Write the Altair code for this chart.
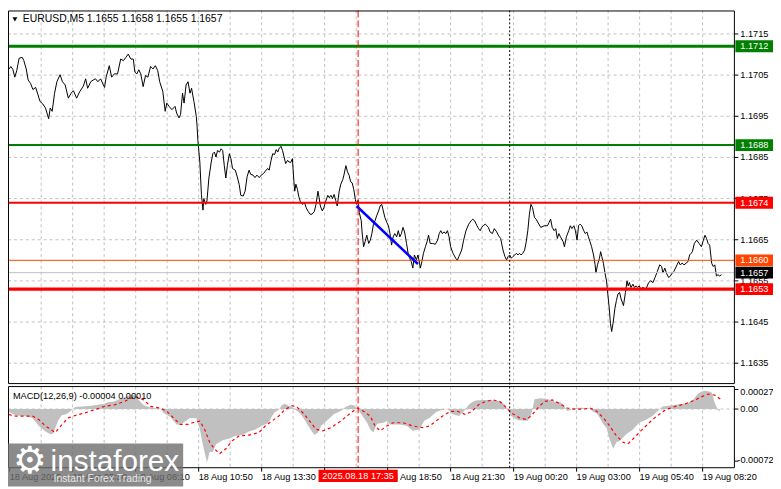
import altair as alt
import pandas as pd

# ---------------- data (x = minutes along the time axis, 18 Aug 00:00 = 0) ----------------
price_t = [
    169, 173, 178, 183, 188, 194, 202, 206, 212, 217,
    223, 229, 236, 242, 247, 254, 261, 269, 273, 278,
    284, 290, 298, 304, 311, 319, 326, 332, 340, 348,
    357, 363, 368, 376, 382, 388, 394, 401, 408, 411,
    415, 423, 429, 436, 444, 452, 459, 465, 471, 478,
    484, 488, 493, 498, 503, 509, 515, 521, 528, 534,
    540, 546, 551, 559, 565, 569, 575, 582, 590, 594,
    600, 604, 609, 613, 618, 623, 628, 632, 638, 644,
    646, 648, 653, 657, 661, 663, 668, 671, 676, 682,
    686, 690, 694, 698, 703, 707, 711, 715, 719, 723,
    728, 732, 736, 743, 748, 753, 757, 763, 768, 773,
    778, 782, 788, 793, 798, 804, 809, 815, 821, 826,
    829, 834, 838, 843, 847, 851, 854, 859, 863, 867,
    871, 876, 879, 884, 888, 892, 894, 897, 901, 904,
    909, 915, 919, 923, 928, 933, 938, 944, 948, 953,
    956, 959, 964, 968, 973, 978, 982, 986, 990, 994,
    998, 1002, 1007, 1011, 1016, 1019, 1024, 1028, 1032, 1036,
    1040, 1044, 1048, 1051, 1055, 1058, 1063, 1065, 1069, 1073,
    1077, 1082, 1086, 1090, 1094, 1098, 1102, 1107, 1111, 1115,
    1119, 1123, 1128, 1132, 1136, 1140, 1144, 1148, 1153, 1157,
    1161, 1165, 1169, 1173, 1178, 1182, 1186, 1190, 1194, 1198,
    1203, 1207, 1211, 1213, 1217, 1221, 1226, 1230, 1234, 1238,
    1244, 1251, 1257, 1261, 1265, 1269, 1273, 1278, 1282, 1286,
    1290, 1296, 1303, 1307, 1311, 1318, 1323, 1329, 1336, 1342,
    1346, 1351, 1357, 1361, 1365, 1369, 1373, 1378, 1382, 1386,
    1390, 1396, 1401, 1407, 1411, 1417, 1423, 1428, 1432, 1436,
    1440, 1444, 1448, 1453, 1457, 1461, 1465, 1469, 1473, 1478,
    1482, 1486, 1490, 1494, 1498, 1503, 1507, 1511, 1519, 1528,
    1536, 1540, 1544, 1548, 1553, 1557, 1561, 1565, 1569, 1576,
    1579, 1584, 1590, 1594, 1598, 1603, 1607, 1611, 1615, 1619,
    1623, 1628, 1632, 1636, 1640, 1644, 1648, 1653, 1657, 1659,
    1663, 1668, 1671, 1674, 1678, 1682, 1686, 1688, 1693, 1696,
    1699, 1703, 1707, 1711, 1715, 1719, 1723, 1729, 1734, 1738,
    1741, 1744, 1748, 1753, 1757, 1761, 1765, 1769, 1773, 1778,
    1786, 1793, 1798, 1804, 1809, 1815, 1821, 1826, 1829, 1834,
    1838, 1844, 1848, 1853, 1857, 1861, 1865, 1869, 1873, 1878,
    1883, 1888, 1893, 1897, 1901, 1904, 1909, 1915, 1921, 1927,
    1932, 1936, 1940, 1944, 1948, 1953, 1957, 1961, 1965, 1969,
    1973, 1978,
]
price_p = [
    1.17065, 1.17071, 1.17064, 1.17045, 1.17061, 1.17091, 1.17093, 1.17085, 1.17065, 1.17038,
    1.17030, 1.17015, 1.17020, 1.17002, 1.16986, 1.16980, 1.16970, 1.16944, 1.16970, 1.16962,
    1.17006, 1.17034, 1.17051, 1.17034, 1.17026, 1.16994, 1.17006, 1.17012, 1.16994, 1.17010,
    1.17023, 1.17041, 1.17018, 1.17034, 1.17038, 1.17041, 1.17034, 1.17041, 1.17026, 1.17020,
    1.17045, 1.17073, 1.17045, 1.17053, 1.17053, 1.17089, 1.17085, 1.17093, 1.17101, 1.17089,
    1.17089, 1.17057, 1.17053, 1.17063, 1.17053, 1.17022, 1.17049, 1.17045, 1.17071, 1.17065,
    1.17073, 1.17061, 1.17034, 1.17010, 1.16962, 1.16982, 1.16974, 1.16966, 1.16974, 1.16958,
    1.16946, 1.16954, 1.17006, 1.16982, 1.17026, 1.17034, 1.17006, 1.17018, 1.16986, 1.16950,
    1.16926, 1.16891, 1.16839, 1.16760, 1.16722, 1.16750, 1.16736, 1.16744, 1.16800, 1.16839,
    1.16859, 1.16863, 1.16851, 1.16867, 1.16863, 1.16871, 1.16867, 1.16831, 1.16800, 1.16831,
    1.16859, 1.16847, 1.16823, 1.16819, 1.16803, 1.16784, 1.16758, 1.16756, 1.16768, 1.16803,
    1.16819, 1.16809, 1.16807, 1.16801, 1.16807, 1.16801, 1.16807, 1.16811, 1.16819, 1.16823,
    1.16819, 1.16843, 1.16859, 1.16857, 1.16869, 1.16863, 1.16871, 1.16877, 1.16867, 1.16851,
    1.16835, 1.16843, 1.16839, 1.16838, 1.16847, 1.16791, 1.16768, 1.16785, 1.16772, 1.16756,
    1.16740, 1.16736, 1.16740, 1.16728, 1.16719, 1.16712, 1.16712, 1.16719, 1.16736, 1.16768,
    1.16752, 1.16732, 1.16720, 1.16728, 1.16744, 1.16758, 1.16752, 1.16758, 1.16750, 1.16760,
    1.16746, 1.16732, 1.16768, 1.16785, 1.16796, 1.16807, 1.16830, 1.16815, 1.16807, 1.16791,
    1.16788, 1.16772, 1.16748, 1.16736, 1.16746, 1.16716, 1.16696, 1.16669, 1.16633, 1.16646,
    1.16661, 1.16641, 1.16649, 1.16665, 1.16688, 1.16696, 1.16708, 1.16720, 1.16732, 1.16736,
    1.16720, 1.16704, 1.16692, 1.16684, 1.16665, 1.16637, 1.16657, 1.16665, 1.16657, 1.16672,
    1.16657, 1.16665, 1.16680, 1.16669, 1.16641, 1.16617, 1.16605, 1.16597, 1.16581, 1.16613,
    1.16601, 1.16613, 1.16593, 1.16581, 1.16597, 1.16617, 1.16633, 1.16645, 1.16661, 1.16641,
    1.16641, 1.16639, 1.16649, 1.16665, 1.16672, 1.16665, 1.16669, 1.16665, 1.16672, 1.16657,
    1.16633, 1.16617, 1.16605, 1.16600, 1.16609, 1.16625, 1.16649, 1.16672, 1.16688, 1.16696,
    1.16700, 1.16696, 1.16684, 1.16677, 1.16672, 1.16680, 1.16684, 1.16688, 1.16684, 1.16680,
    1.16669, 1.16665, 1.16677, 1.16669, 1.16661, 1.16653, 1.16625, 1.16609, 1.16601, 1.16609,
    1.16613, 1.16605, 1.16609, 1.16613, 1.16617, 1.16613, 1.16617, 1.16613, 1.16617, 1.16625,
    1.16645, 1.16672, 1.16712, 1.16736, 1.16728, 1.16704, 1.16700, 1.16693, 1.16680, 1.16684,
    1.16684, 1.16692, 1.16700, 1.16680, 1.16672, 1.16677, 1.16653, 1.16665, 1.16657, 1.16645,
    1.16633, 1.16657, 1.16672, 1.16684, 1.16677, 1.16684, 1.16672, 1.16649, 1.16684, 1.16688,
    1.16684, 1.16672, 1.16665, 1.16669, 1.16657, 1.16645, 1.16633, 1.16613, 1.16589, 1.16569,
    1.16589, 1.16605, 1.16621, 1.16609, 1.16593, 1.16569, 1.16550, 1.16530, 1.16482, 1.16446,
    1.16427, 1.16450, 1.16482, 1.16502, 1.16518, 1.16522, 1.16506, 1.16490, 1.16522, 1.16550,
    1.16538, 1.16546, 1.16534, 1.16542, 1.16534, 1.16538, 1.16534, 1.16538, 1.16530, 1.16534,
    1.16530, 1.16546, 1.16550, 1.16546, 1.16558, 1.16573, 1.16589, 1.16585, 1.16569, 1.16581,
    1.16569, 1.16558, 1.16562, 1.16569, 1.16573, 1.16581, 1.16589, 1.16597, 1.16589, 1.16593,
    1.16589, 1.16593, 1.16597, 1.16613, 1.16617, 1.16621, 1.16641, 1.16649, 1.16641, 1.16633,
    1.16649, 1.16661, 1.16653, 1.16641, 1.16637, 1.16593, 1.16585, 1.16589, 1.16562, 1.16565,
    1.16562, 1.16565,
]

trend_t = [1051, 1207]
trend_p = [1.16732, 1.16591]

# MACD histogram and signal (values in units of 1e-5)
hist_t = [
    168, 186, 211, 228, 244, 261, 273, 281, 286, 294,
    303, 311, 319, 328, 336, 353, 378, 394, 411, 419,
    436, 453, 461, 478, 486, 494, 503, 511, 523, 536,
    553, 561, 569, 578, 586, 594, 603, 611, 628, 644,
    653, 661, 668, 671, 678, 686, 694, 711, 728, 744,
    761, 778, 794, 811, 828, 836, 844, 853, 861, 869,
    878, 886, 894, 903, 911, 919, 928, 936, 944, 953,
    961, 978, 994, 1011, 1023, 1036, 1044, 1053, 1061, 1078,
    1086, 1094, 1103, 1119, 1128, 1136, 1161, 1178, 1194, 1211,
    1223, 1236, 1253, 1269, 1282, 1294, 1311, 1319, 1328, 1336,
    1344, 1353, 1369, 1386, 1403, 1419, 1428, 1436, 1444, 1461,
    1486, 1494, 1498, 1503, 1519, 1536, 1553, 1569, 1578, 1586,
    1594, 1603, 1619, 1636, 1644, 1653, 1661, 1669, 1678, 1686,
    1694, 1703, 1711, 1719, 1728, 1736, 1753, 1769, 1786, 1803,
    1811, 1819, 1828, 1844, 1861, 1878, 1886, 1903, 1911, 1919,
    1928, 1936, 1944, 1953, 1957, 1961, 1969, 1973,
]
hist_e5 = [
    -4, -9, -9.9, -12.2, -23.4, -31.1, -34.7, -33.8, -25.7, -14.9,
    -8.1, -7.7, -5.4, -1.4, 2.7, 3.6, 4.5, 5.8, 7.2, 9.5,
    10.4, 14.9, 16.2, 19.3, 18.9, 14.9, 9.5, 5.4, 2.7, 1.4,
    0.7, -5.4, -8.1, -10.8, -16.2, -21.2, -21.6, -18.9, -12.2, -12.6,
    -27.9, -50, -66.2, -74.3, -59.4, -59.4, -48.6, -43.2, -40.5, -36.9,
    -36, -31.1, -28.4, -23, -18.9, -9.9, -4.1, -1.4, 5.4, 7.2,
    4.5, 3.6, 0, -4.1, -8.1, -14.9, -23, -29.7, -36, -32.4,
    -23, -14.9, -6.8, -2.7, 2.7, 5.8, 5.4, 0, -5.4, -18.9,
    -28.4, -32.4, -20.3, -18.9, -16.6, -21.2, -21.2, -23, -30.1, -28.4,
    -16.2, -12.2, -4.1, -0.9, 0, -6.8, -9.5, -5.4, 0, 5.8,
    9.5, 11.7, 12.6, 12.6, 11.7, 10.4, 5.4, -1.4, -9.5, -15.3,
    -16.2, -8.1, 0, 13.5, 14.9, 13.9, 10.4, 9.5, 5.4, -3.1,
    -1.4, 1.4, 1.8, 1.4, 0, -4.1, -5.8, -12.2, -21.2, -25.7,
    -41.9, -54.9, -45.9, -44.1, -39.2, -34.7, -28.4, -18.9, -14.9, -9.5,
    -5.4, -1.4, 3.6, 4.5, 5.8, 6.8, 8.1, 10.4, 16.2, 21.6,
    24.3, 25.2, 24.7, 23, 16.2, 8.1, -1.4, -3.6,
]
sig_t = [
    168, 186, 211, 228, 244, 261, 286, 303, 319, 336,
    361, 386, 411, 436, 461, 478, 490, 511, 528, 553,
    569, 586, 603, 623, 640, 653, 665, 678, 690, 703,
    719, 736, 753, 778, 803, 819, 836, 853, 869, 886,
    898, 915, 932, 948, 965, 986, 1011, 1036, 1053, 1069,
    1086, 1098, 1111, 1128, 1144, 1169, 1194, 1219, 1236, 1253,
    1269, 1290, 1307, 1328, 1344, 1361, 1378, 1398, 1415, 1428,
    1444, 1465, 1482, 1494, 1511, 1528, 1548, 1565, 1586, 1603,
    1628, 1644, 1661, 1678, 1694, 1711, 1728, 1740, 1753, 1769,
    1786, 1803, 1819, 1836, 1861, 1886, 1911, 1928, 1944, 1961,
    1978,
]
sig_e5 = [
    -7.7, -9.9, -9.9, -9.9, -14.4, -23.4, -32.4, -21.2, -12.2, -9.0,
    -5.4, -0.9, 3.6, 5.8, 10.4, 14.9, 17.1, 12.6, 3.6, 1.4,
    -3.1, -12.2, -21.2, -21.2, -18.0, -16.6, -27.9, -45.9, -54.9, -61.7,
    -54.9, -43.6, -36.9, -36.0, -32.4, -23.4, -16.6, -9.9, -0.9, 4.5,
    3.6, -5.4, -16.6, -27.9, -30.1, -25.7, -16.6, -5.4, 1.4, -3.1,
    -9.9, -23.4, -30.1, -23.4, -18.9, -18.9, -23.4, -25.7, -23.4, -16.6,
    -9.9, -3.1, -3.1, -7.7, -3.1, 5.8, 10.4, 12.6, 10.4, 3.6,
    -5.4, -12.2, -14.4, -9.9, 1.4, 10.4, 12.6, 8.1, 1.4, 0,
    0, 1.4, -3.1, -12.2, -23.4, -36.9, -45.9, -48.2, -41.4, -32.4,
    -23.4, -14.4, -7.7, -0.9, 3.6, 7.2, 12.6, 17.1, 20.7, 19.3,
    12.6,
]

level_p = [1.1712, 1.1688, 1.1674, 1.1660, 1.1657, 1.1653]
price_ticks = [1.1715, 1.1705, 1.1695, 1.1685, 1.1675, 1.1665, 1.1655, 1.1645, 1.1635]
macd_ticks = [0.00027, 0.0, -0.00072]
macd_tick_labels = ["0.00027", "0.00", "-0.00072"]
time_ticks = [170, 330, 490, 650, 810, 970, 1130, 1290, 1450, 1610, 1770, 1930]
time_labels = ["18 Aug 2025", "18 Aug 05:30", "18 Aug 08:10", "18 Aug 10:50",
               "18 Aug 13:30", "18 Aug 16:10", "18 Aug 18:50", "18 Aug 21:30",
               "19 Aug 00:20", "19 Aug 03:00", "19 Aug 05:40", "19 Aug 08:20"]
grid_t = [250, 330, 410, 490, 570, 650, 730, 810, 890, 970, 1050,
          1130, 1210, 1290, 1370, 1450, 1530, 1610, 1690, 1770, 1850, 1930]
cursor_t = [1055]
cursor_label = ["2025.08.18 17:35"]
day_sep_t = [1440]
title_main = "EURUSD,M5  1.1655 1.1658 1.1655 1.1657"
title_macd = "MACD(12,26,9) -0.00004 0.00010"

# ---------------- styles ----------------
level_line_color = ["#008000", "#008000", "#ff0000", "#ff4500", "#c0c0c0", "#ff0000"]
level_line_width = [3, 2, 2, 1, 1, 3.5]
level_box_color = ["#008000", "#008000", "#ff0000", "#ff4500", "#000000", "#ff0000"]

FONT = "Liberation Sans"
FS = 9.3
W, H = 734, 462
MAIN_BOTTOM, MACD_TOP = 377, 380

# ---------------- frames ----------------
n = min(len(price_t), len(price_p))
df_price = pd.DataFrame({"t": price_t[:n], "p": price_p[:n]})
m = min(len(hist_t), len(hist_e5))
df_hist = pd.DataFrame({"t": hist_t[:m], "v": [v * 1e-5 for v in hist_e5[:m]], "zero": 0.0})
k = min(len(sig_t), len(sig_e5))
df_sig = pd.DataFrame({"t": sig_t[:k], "v": [v * 1e-5 for v in sig_e5[:k]]})
df_trend = pd.DataFrame({"t": trend_t, "p": trend_p})
df_levels = pd.DataFrame({
    "p": level_p,
    "lc": level_line_color,
    "lw": level_line_width,
    "bc": level_box_color,
    "label": [f"{v:.4f}" for v in level_p],
})
df_pt = pd.DataFrame({"p": price_ticks, "label": [f"{v:.4f}" for v in price_ticks]})
df_mt = pd.DataFrame({"v": macd_ticks, "label": macd_tick_labels})
df_time = pd.DataFrame({"t": time_ticks, "label": time_labels})
df_grid = pd.DataFrame({"t": grid_t})
df_cursor = pd.DataFrame({"t": cursor_t, "label": cursor_label})
df_day = pd.DataFrame({"t": day_sep_t})
one = pd.DataFrame({"a": [0]})

XS = alt.Scale(domain=[165.75, 2010.75], nice=False, zero=False)
YP = alt.Scale(domain=[1.163005, 1.17207], range=[MAIN_BOTTOM, 0], nice=False, zero=False)
YM = alt.Scale(domain=[-0.00081, 0.0003105], range=[H, MACD_TOP], nice=False, zero=False)


def X(f="t"):
    return alt.X(f"{f}:Q", scale=XS, axis=None)


def YPr(f="p"):
    return alt.Y(f"{f}:Q", scale=YP, axis=None)


def YMa(f="v"):
    return alt.Y(f"{f}:Q", scale=YM, axis=None)


GRID = dict(color="#c0c0c0", strokeDash=[3, 3], strokeWidth=1)

layers = []
# grid
layers.append(alt.Chart(df_grid).mark_rule(**GRID).encode(
    x=X(), y=alt.value(0), y2=alt.value(MAIN_BOTTOM)))
layers.append(alt.Chart(df_grid).mark_rule(**GRID).encode(
    x=X(), y=alt.value(MACD_TOP), y2=alt.value(H)))
layers.append(alt.Chart(df_pt).mark_rule(**GRID).encode(
    y=YPr(), x=alt.value(0), x2=alt.value(W)))
layers.append(alt.Chart(pd.DataFrame({"v": [0.0]})).mark_rule(**GRID).encode(
    y=YMa(), x=alt.value(0), x2=alt.value(W)))

# MACD histogram + signal
layers.append(alt.Chart(df_hist).mark_area(color="#c0c0c0").encode(
    x=X(), y=YMa(), y2=alt.Y2("zero:Q")))
layers.append(alt.Chart(df_sig).mark_line(color="#ff0000", strokeDash=[3, 3], strokeWidth=1.2).encode(
    x=X(), y=YMa()))

# price
layers.append(alt.Chart(df_price).mark_line(color="#000000", strokeWidth=1).encode(
    x=X(), y=YPr()))

# level lines
layers.append(alt.Chart(df_levels).mark_rule().encode(
    y=YPr(), x=alt.value(0), x2=alt.value(W),
    color=alt.Color("lc:N", scale=None),
    strokeWidth=alt.StrokeWidth("lw:Q", scale=None)))

# trend line
layers.append(alt.Chart(df_trend).mark_line(color="#0000ff", strokeWidth=2.5).encode(
    x=X(), y=YPr()))

# vertical cursor / day separator
layers.append(alt.Chart(df_cursor).mark_rule(color="#ff0000", strokeDash=[7, 3], strokeWidth=1).encode(
    x=X(), y=alt.value(0), y2=alt.value(H)))
layers.append(alt.Chart(df_day).mark_rule(color="#000000", strokeDash=[2, 2], strokeWidth=1).encode(
    x=X(), y=alt.value(0), y2=alt.value(H)))

# frames
layers.append(alt.Chart(one).mark_rect(fillOpacity=0, stroke="#000000", strokeWidth=1).encode(
    x=alt.value(0.5), x2=alt.value(W), y=alt.value(0.5), y2=alt.value(MAIN_BOTTOM)))
layers.append(alt.Chart(one).mark_rect(fillOpacity=0, stroke="#000000", strokeWidth=1).encode(
    x=alt.value(0.5), x2=alt.value(W), y=alt.value(MACD_TOP), y2=alt.value(H)))

# right price axis
layers.append(alt.Chart(df_pt).mark_rule(color="#000000").encode(
    y=YPr(), x=alt.value(W), x2=alt.value(W + 4)))
layers.append(alt.Chart(df_pt).mark_text(align="left", baseline="middle", font=FONT,
                                         fontSize=FS, color="#000000").encode(
    y=YPr(), x=alt.value(W + 6), text="label:N"))

# MACD axis
layers.append(alt.Chart(df_mt).mark_rule(color="#000000").encode(
    y=YMa(), x=alt.value(W), x2=alt.value(W + 4)))
layers.append(alt.Chart(df_mt[df_mt["v"] > 0]).mark_text(
    align="left", baseline="middle", font=FONT, fontSize=FS, color="#000000", dy=3).encode(
    y=YMa(), x=alt.value(W + 6), text="label:N"))
layers.append(alt.Chart(df_mt[df_mt["v"] == 0]).mark_text(
    align="left", baseline="middle", font=FONT, fontSize=FS, color="#000000").encode(
    y=YMa(), x=alt.value(W + 6), text="label:N"))
layers.append(alt.Chart(df_mt[df_mt["v"] < 0]).mark_text(
    align="left", baseline="middle", font=FONT, fontSize=FS, color="#000000", dy=-1).encode(
    y=YMa(), x=alt.value(W + 3), text="label:N"))

# level boxes on the axis
layers.append(alt.Chart(df_levels).mark_rule(strokeWidth=12).encode(
    y=YPr(), x=alt.value(W + 1), x2=alt.value(W + 39),
    color=alt.Color("bc:N", scale=None)))
layers.append(alt.Chart(df_levels).mark_text(align="left", baseline="middle", font=FONT,
                                             fontSize=FS, color="#ffffff").encode(
    y=YPr(), x=alt.value(W + 6), text="label:N"))

# time axis
layers.append(alt.Chart(df_time).mark_rule(color="#000000").encode(
    x=X(), y=alt.value(H), y2=alt.value(H + 4)))
layers.append(alt.Chart(df_time).mark_text(align="left", baseline="middle", font=FONT,
                                           fontSize=FS, color="#000000").encode(
    x=X(), y=alt.value(471), text="label:N"))
layers.append(alt.Chart(df_cursor).mark_rule(color="#ff0000", strokeWidth=12.5,
                                             xOffset=-40, x2Offset=40).encode(
    x=X(), x2=alt.X2("t:Q"), y=alt.value(470.3)))
layers.append(alt.Chart(df_cursor).mark_text(align="center", baseline="middle", font=FONT,
                                             fontSize=FS, color="#ffffff").encode(
    x=X(), y=alt.value(470.5), text="label:N"))

# titles
layers.append(alt.Chart(one).mark_point(shape="triangle-down", filled=True, color="#000000",
                                        size=24, opacity=1).encode(
    x=alt.value(7), y=alt.value(9)))
layers.append(alt.Chart(pd.DataFrame({"label": [title_main]})).mark_text(
    align="left", baseline="middle", font=FONT, fontSize=10.5, color="#000000").encode(
    x=alt.value(15), y=alt.value(9), text="label:N"))
layers.append(alt.Chart(pd.DataFrame({"label": [title_macd]})).mark_text(
    align="left", baseline="middle", font=FONT, fontSize=FS, color="#000000").encode(
    x=alt.value(5), y=alt.value(389.5), text="label:N"))

# watermark
layers.append(alt.Chart(one).mark_rect(color="#6e6e6e", opacity=0.8).encode(
    x=alt.value(0), x2=alt.value(177), y=alt.value(437.6), y2=alt.value(481)))
layers.append(alt.Chart(pd.DataFrame({"label": ["\u2699"]})).mark_text(
    align="center", baseline="middle", font="DejaVu Sans", fontSize=38, color="#ffffff").encode(
    x=alt.value(22), y=alt.value(456), text="label:N"))
layers.append(alt.Chart(pd.DataFrame({"label": ["instaforex"]})).mark_text(
    align="left", baseline="alphabetic", font=FONT, fontSize=30, color="#ffffff").encode(
    x=alt.value(43), y=alt.value(465), text="label:N"))
layers.append(alt.Chart(pd.DataFrame({"label": ["Instant Forex Trading"]})).mark_text(
    align="left", baseline="middle", font=FONT, fontSize=10.5, color="#e6e6e6").encode(
    x=alt.value(46), y=alt.value(473.5), text="label:N"))

chart = (
    alt.layer(*layers)
    .resolve_scale(y="independent")
    .properties(
        width=W, height=H,
        padding={"left": 0, "top": 0, "right": 39, "bottom": 19},
        autosize=alt.AutoSizeParams(type="none"),
        background="#ffffff",
    )
    .configure_view(stroke=None)
)

chart.save("out.html", embed_options={"renderer": "svg", "actions": False})
